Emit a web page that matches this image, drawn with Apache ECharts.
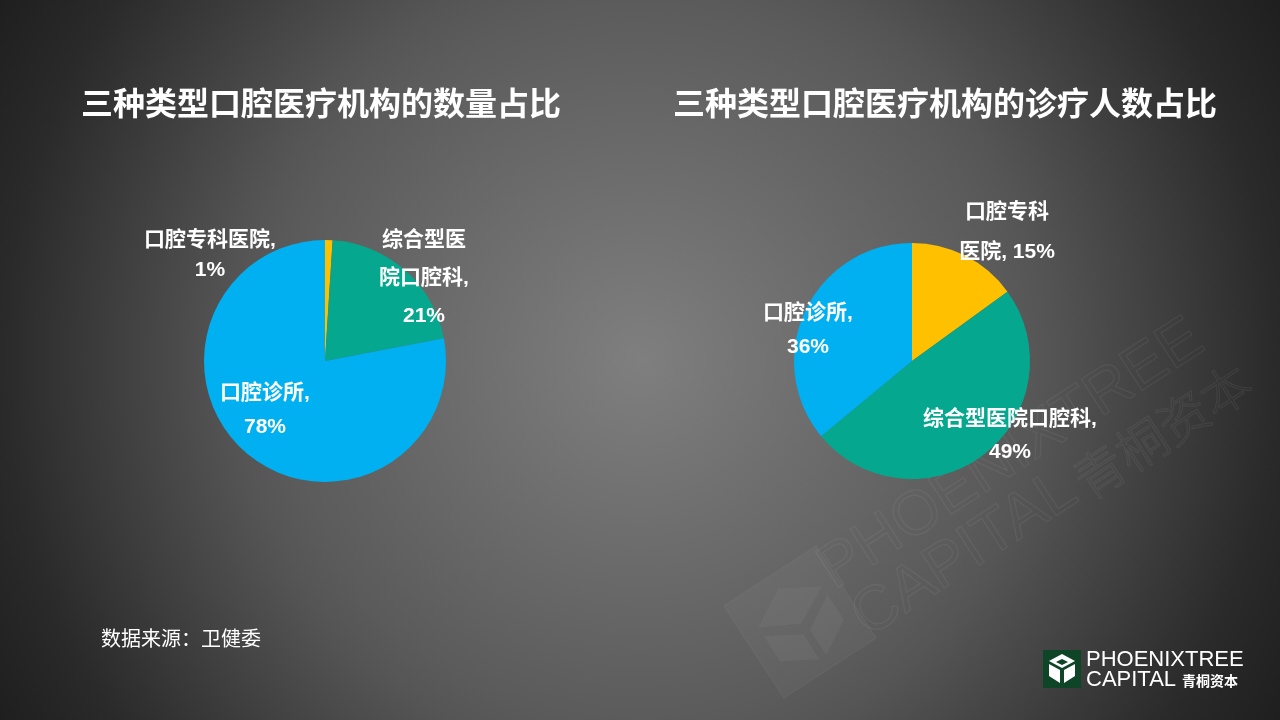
<!DOCTYPE html>
<html>
<head>
<meta charset="utf-8">
<script src="https://cdn.jsdelivr.net/npm/echarts@6/dist/echarts.min.js"></script>
<style>html,body{margin:0;padding:0;}#main{width:1280px;height:720px;}</style>
</head>
<body>
<div id="main"></div>
<script>
// ---- data ----
const categories = ['口腔专科医院', '综合型医院口腔科', '口腔诊所'];
const countShare = [1, 21, 78];      // 数量占比 (%)
const visitShare = [15, 49, 36];     // 诊疗人数占比 (%)
const titles = ['三种类型口腔医疗机构的数量占比', '三种类型口腔医疗机构的诊疗人数占比'];
const sourceText = '数据来源：卫健委';

// ---- display ----
const colors = ['#FFC000', '#05A88E', '#00B0F0'];
const font = '"Liberation Sans", "Noto Sans CJK SC", sans-serif';
// label wrapping: break index inside name (or null), and whether value goes on new line
const leftWrap = [[null, true], [4, true], [null, true]];
const rightWrap = [[4, false], [null, true], [null, true]];
const leftLabelPos = [[210, 255, 30], [424, 278, 38], [265, 410, 34]];
const rightLabelPos = [[1007, 232, 40], [1010, 436, 33], [808, 330, 34]];

function labelText(name, value, wrap) {
  let n = name;
  if (wrap[0] !== null) n = name.slice(0, wrap[0]) + '\n' + name.slice(wrap[0]);
  return n + ',' + (wrap[1] ? '\n' : ' ') + value + '%';
}
function buildData(values, wrap, pos) {
  return categories.map((c, i) => ({
    name: c, value: values[i],
    itemStyle: { color: colors[i] },
    label: { formatter: labelText(c, values[i], wrap[i]), lineHeight: pos[i][2] }
  }));
}
function makeSeries(values, wrap, pos, center, radius) {
  return {
    type: 'pie', center: center, radius: radius, startAngle: 90, clockwise: true,
    silent: true, animation: false,
    label: { show: true, position: 'inside', color: '#fff', fontSize: 21, fontWeight: 'bold', fontFamily: font, align: 'center' },
    labelLine: { show: false },
    labelLayout: function (p) { const q = pos[p.dataIndex]; return { x: q[0], y: q[1], align: 'center', verticalAlign: 'middle' }; },
    itemStyle: { borderWidth: 0 },
    emphasis: { disabled: true },
    data: buildData(values, wrap, pos)
  };
}

const chart = echarts.init(document.getElementById('main'), null, { renderer: 'canvas' });
const wmColor = 'rgba(255,255,255,0.06)';
chart.setOption({
  animation: false,
  backgroundColor: {
    type: 'radial', x: 640, y: 360, r: 740, global: true,
    colorStops: [
      { offset: 0, color: '#7f7f7f' },
      { offset: 0.49, color: '#5b5b5b' },
      { offset: 0.55, color: '#555555' },
      { offset: 0.86, color: '#2a2a2a' },
      { offset: 1, color: '#1e1e1e' }
    ]
  },
  title: [
    { text: titles[0], left: 316, top: 85, textAlign: 'center', textStyle: { color: '#fff', fontSize: 32, fontWeight: 'bold', fontFamily: font } },
    { text: titles[1], left: 940, top: 85, textAlign: 'center', textStyle: { color: '#fff', fontSize: 32, fontWeight: 'bold', fontFamily: font } }
  ],
  graphic: [
    // watermark
    { type: 'group', x: 842, y: 602, rotation: 33 * Math.PI / 180, silent: true, children: [
      { type: 'text', x: 0, y: 0, style: { text: 'PHOENIXTREE', font: '300 62px "Liberation Sans", sans-serif', fill: 'none', stroke: wmColor, lineWidth: 1.2, textVerticalAlign: 'bottom' } },
      { type: 'text', x: 2, y: 58, style: { text: 'CAPITAL', font: '300 62px "Liberation Sans", sans-serif', fill: 'none', stroke: wmColor, lineWidth: 1.2, textVerticalAlign: 'bottom' } },
      { type: 'text', x: 262, y: 56, style: { text: '青桐资本', font: '300 50px "Noto Sans CJK SC", sans-serif', fill: 'none', stroke: wmColor, lineWidth: 1.2, textVerticalAlign: 'bottom' } }
    ]},
    { type: 'group', x: 800, y: 622, rotation: 33 * Math.PI / 180, silent: true, children: [
      { type: 'rect', shape: { x: -55, y: -55, width: 110, height: 110 }, style: { fill: 'rgba(255,255,255,0.035)', stroke: 'rgba(255,255,255,0.05)' } },
      { type: 'polygon', shape: { points: [[-38, -18], [0, -40], [38, -18], [0, 2]] }, style: { fill: 'rgba(255,255,255,0.04)' } },
      { type: 'polygon', shape: { points: [[-38, -8], [-4, 12], [-4, 42], [-38, 22]] }, style: { fill: 'rgba(255,255,255,0.04)' } },
      { type: 'polygon', shape: { points: [[38, -8], [4, 12], [4, 42], [38, 22]] }, style: { fill: 'rgba(255,255,255,0.04)' } }
    ]},
    // source
    { type: 'text', left: 101, top: 628, style: { text: sourceText, fill: '#fff', font: '20px "Noto Sans CJK SC", sans-serif' } },
    // logo
    { type: 'rect', shape: { x: 1043, y: 650, width: 38, height: 38 }, style: { fill: '#0f4527' } },
    { type: 'polygon', shape: { points: [[1049, 661], [1062, 654], [1075, 661], [1062, 668]] }, style: { fill: '#fff' } },
    { type: 'polygon', shape: { points: [[1049, 664], [1060, 670], [1060, 683], [1049, 676]] }, style: { fill: '#fff' } },
    { type: 'polygon', shape: { points: [[1075, 664], [1064, 670], [1064, 683], [1075, 676]] }, style: { fill: '#fff' } },
    { type: 'polygon', shape: { points: [[1056, 662], [1062, 659], [1068, 662], [1062, 665]] }, style: { fill: '#0f4527' } },
    { type: 'text', x: 1086, y: 660, style: { text: 'PHOENIXTREE', fill: '#fff', font: '22px "Liberation Sans", sans-serif', textVerticalAlign: 'middle' } },
    { type: 'text', x: 1086, y: 680, style: { text: 'CAPITAL', fill: '#fff', font: '22px "Liberation Sans", sans-serif', textVerticalAlign: 'middle' } },
    { type: 'text', x: 1182, y: 681, style: { text: '青桐资本', fill: '#fff', font: 'bold 14px "Noto Sans CJK SC", sans-serif', textVerticalAlign: 'middle' } }
  ],
  series: [
    makeSeries(countShare, leftWrap, leftLabelPos, [325, 361], 121),
    makeSeries(visitShare, rightWrap, rightLabelPos, [912, 361], 118)
  ]
});
</script>
</body>
</html>
